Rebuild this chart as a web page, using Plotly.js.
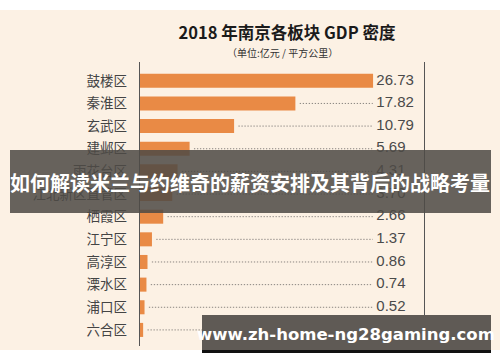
<!DOCTYPE html>
<html>
<head>
<meta charset="utf-8">
<script src="https://cdn.plot.ly/plotly-3.0.1.min.js"></script>
<style>html,body{margin:0;padding:0;background:#fff;}#chart{width:500px;height:362px;}</style>
</head>
<body>
<div id="chart"></div>
<script>
// ---- data ----
const districts = ["鼓楼区","秦淮区","玄武区","建邺区","雨花台区","江北新区直管区","栖霞区","江宁区","高淳区","溧水区","浦口区","六合区"];
const gdpDensity = [26.73,17.82,10.79,5.69,4.31,3.70,2.66,1.37,0.86,0.74,0.52,0.36];
const valueLabels = ["26.73","17.82","10.79","5.69","4.31","3.70","2.66","1.37","0.86","0.74","0.52","0.36"];
const titleText = "2018 年南京各板块 GDP 密度";
const subtitleText = "（单位:亿元 / 平方公里）";
const bannerText = "如何解读米兰与约维奇的薪资安排及其背后的战略考量";
const watermarkText = "www.zh-home-ng28gaming.com";

// ---- layout geometry ----
const W = 500, H = 362;
const M = {l: 140, r: 76, t: 62, b: 16};
const PW = W - M.l - M.r, PH = H - M.t - M.b;
const px = x => (x - M.l) / PW;           // pixel -> paper x
const py = y => 1 - (y - M.t) / PH;       // pixel -> paper y
const XMAX = 32.57;
const gapStart = 0.5, lineEnd = 26.7, labelX = 27.1;

// dotted leader lines built from data
const lx = [], ly = [];
districts.forEach((d, i) => {
  const s = gdpDensity[i] + gapStart;
  if (s < lineEnd - 0.3) { lx.push(s, lineEnd, null); ly.push(d, d, null); }
});

const cjk = '"Noto Sans CJK SC", "Noto Sans", sans-serif';

const traces = [
  {type: 'bar', orientation: 'h', x: gdpDensity, y: districts, width: 0.62,
   marker: {color: '#E98A45', line: {width: 0}}, hoverinfo: 'skip'},
  {type: 'scatter', mode: 'lines', x: lx, y: ly, connectgaps: false,
   line: {color: '#8a8580', width: 1, dash: '1.3px,1.7px'}, hoverinfo: 'skip'},
  {type: 'scatter', mode: 'text', x: districts.map(() => labelX), y: districts,
   text: valueLabels, textposition: 'middle right',
   textfont: {family: '"Liberation Sans", Arial, sans-serif', size: 15, color: '#4a4a4a'},
   hoverinfo: 'skip', cliponaxis: false}
];

const layout = {
  width: W, height: H,
  margin: M,
  paper_bgcolor: '#ffffff',
  plot_bgcolor: 'rgba(0,0,0,0)',
  showlegend: false,
  title: {text: titleText, xref: 'container', yref: 'container', x: 0.574, y: 1 - 33/H,
          xanchor: 'center', yanchor: 'middle',
          font: {family: cjk, size: 16.5, color: '#1a1a1a', weight: 'bold'}},
  xaxis: {range: [0, XMAX], showgrid: false, zeroline: false, showticklabels: false,
          ticks: '', showline: false, fixedrange: true},
  yaxis: {type: 'category', range: [11.71, -0.83], showgrid: false, zeroline: false,
          showline: true, mirror: true, linecolor: '#555', linewidth: 1.3,
          ticks: 'outside', ticklen: 9, tickcolor: 'rgba(0,0,0,0)',
          tickfont: {family: cjk, size: 13.5, color: '#444'}, fixedrange: true},
  annotations: [
    {text: subtitleText, xref: 'paper', yref: 'paper', x: px(282), y: py(53),
     xanchor: 'center', yanchor: 'middle', showarrow: false,
     font: {family: cjk, size: 10, color: '#333'}},
    {text: bannerText, xref: 'paper', yref: 'paper', x: px(250), y: py(182),
     xanchor: 'center', yanchor: 'middle', showarrow: false,
     font: {family: cjk, size: 20, color: '#ffffff', weight: 'bold'}},
    {text: watermarkText, xref: 'paper', yref: 'paper', x: px(346), y: py(334),
     xanchor: 'center', yanchor: 'middle', showarrow: false,
     font: {family: '"DejaVu Sans", sans-serif', size: 16.5, color: '#ffffff', weight: 'bold'}}
  ],
  shapes: [
    {type: 'rect', layer: 'below', xref: 'paper', yref: 'paper',
     x0: px(0), x1: px(500), y0: py(10), y1: py(350), fillcolor: '#FCF1E4', line: {width: 0}},
    {type: 'rect', layer: 'above', xref: 'paper', yref: 'paper',
     x0: px(10), x1: px(491), y0: py(150), y1: py(213), fillcolor: 'rgba(78,74,70,0.86)', line: {width: 0}},
    {type: 'rect', layer: 'above', xref: 'paper', yref: 'paper',
     x0: px(202), x1: px(491), y0: py(315), y1: py(350), fillcolor: '#5F5A55', line: {width: 0}},
    {type: 'rect', layer: 'above', xref: 'paper', yref: 'paper',
     x0: px(202), x1: px(491), y0: py(350), y1: py(353), fillcolor: '#111111', line: {width: 0}}
  ]
};

Plotly.newPlot('chart', traces, layout, {staticPlot: true, displayModeBar: false});
</script>
</body>
</html>
